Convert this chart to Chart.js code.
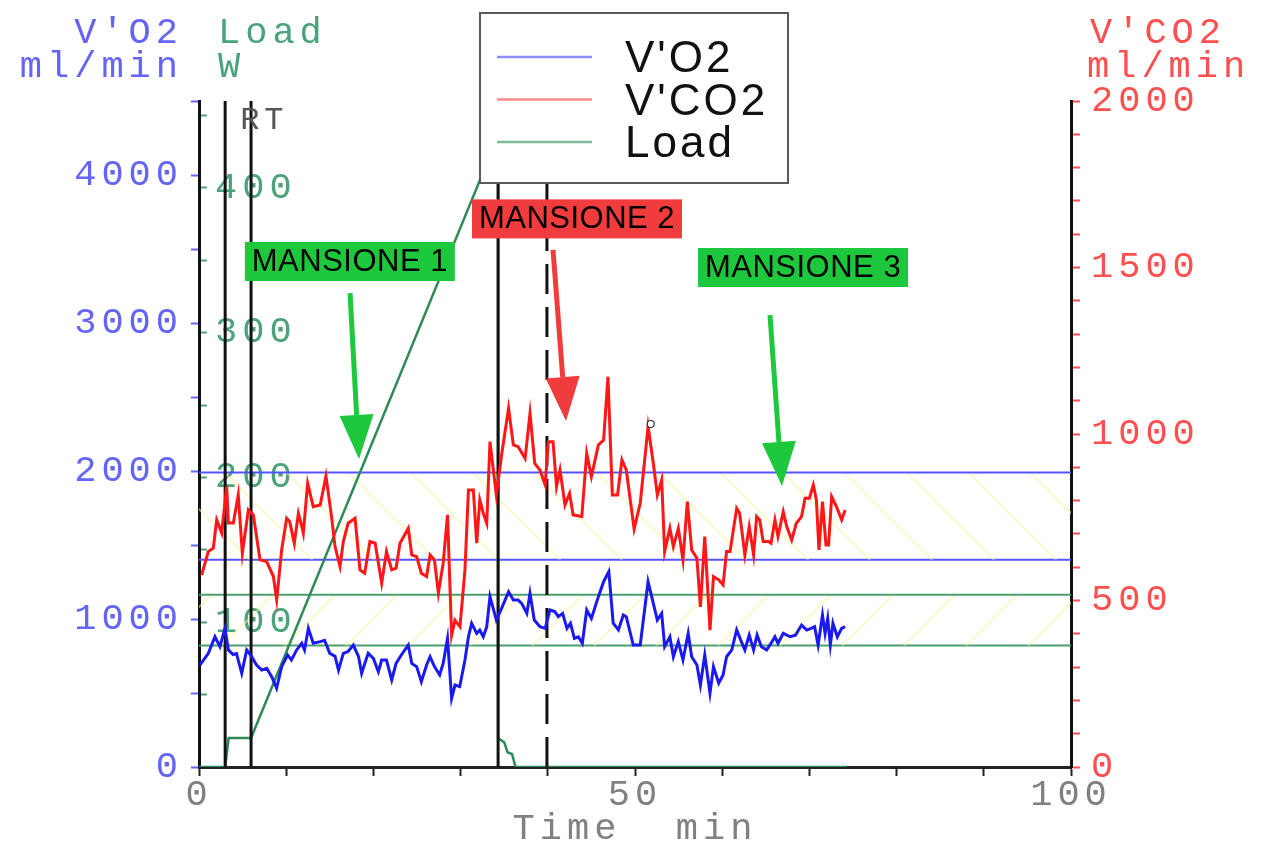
<!DOCTYPE html>
<html>
<head>
<meta charset="utf-8">
<title>V'O2 / V'CO2 / Load</title>
<script src="https://cdn.jsdelivr.net/npm/chart.js@4.4.1/dist/chart.umd.min.js"></script>
<style>
  html, body { margin: 0; padding: 0; background: #fff; }
  #wrap { position: relative; width: 1276px; height: 845px; }
</style>
</head>
<body>
<div id="wrap"><canvas id="chart"></canvas></div>
<script>
// Values (time in min)
const o2Time = [0.1, 1.07, 1.83, 2.4, 2.98, 3.37, 3.9, 4.3, 4.9, 5.47, 6.0, 6.6, 7.2, 7.76, 8.34, 8.9, 9.48, 10.16, 10.6, 11.2,
  11.78, 12.1, 12.54, 13.1, 13.9, 14.4, 15.0, 15.6, 16.0, 16.55, 17.1, 17.7, 18.3, 18.65, 19.4, 20.0, 20.57, 20.95, 21.5, 22.1,
  22.6, 23.2, 24.0, 24.4, 24.96, 25.5, 26.1, 26.5, 27.0, 27.6, 28.0, 28.5, 28.97, 29.36, 29.9, 30.5, 30.9, 31.27, 31.85, 32.2,
  32.6, 33.0, 33.37, 34.1, 34.7, 35.5, 36.05, 36.6, 37.0, 37.6, 37.96, 38.45, 39.1, 39.7, 40.25, 40.8, 41.2, 41.7, 42.2, 42.6,
  43.05, 43.5, 43.96, 44.46, 45.0, 45.8, 46.4, 47.0, 47.5, 48.1, 48.66, 49.0, 49.8, 50.6, 51.5, 52.1, 52.56, 53.06, 53.4, 54.0,
  54.4, 54.97, 55.5, 56.1, 56.5, 57.1, 57.5, 58.0, 58.6, 59.0, 59.6, 60.1, 60.5, 61.1, 61.66, 62.2, 62.6, 63.1, 63.6, 64.0,
  64.5, 65.1, 65.6, 66.05, 66.4, 67.0, 67.8, 68.4, 69.1, 69.7, 70.2, 70.6, 71.0, 71.5, 71.8, 72.1, 72.4, 72.7, 73.2, 73.7, 74.1];
const o2Value = [689, 768, 880, 813, 937, 791, 760, 766, 633, 791, 750, 689, 655, 667, 610, 532, 678, 757, 723, 791,
  836, 791, 937, 836, 847, 856, 768, 748, 655, 768, 780, 824, 745, 633, 768, 734, 644, 723, 723, 588,
  700, 757, 824, 700, 678, 576, 689, 745, 678, 622, 700, 869, 464, 554, 543, 723, 880, 971, 903, 925,
  880, 948, 1151, 993, 1072, 1184, 1128, 1128, 1106, 1038, 1173, 993, 948, 937, 1061, 1050, 1016, 1038, 937, 971,
  869, 880, 836, 1061, 1004, 1151, 1252, 1320, 971, 926, 1027, 1016, 824, 824, 1252, 1106, 993, 1038, 813, 880,
  745, 847, 723, 903, 745, 689, 554, 757, 498, 678, 566, 622, 745, 791, 926, 847, 791, 892, 791, 892,
  813, 791, 836, 880, 836, 903, 880, 890, 959, 925, 937, 948, 824, 1027, 903, 1004, 824, 971, 880, 937, 948];

const co2Time = [0.3, 1.07, 1.64, 2.03, 2.6, 3.17, 3.37, 3.94, 4.5, 4.97, 5.66, 6.23, 7.0, 7.76, 8.53, 8.91, 9.48, 10.05, 10.4, 10.93,
  11.4, 11.7, 11.96, 12.46, 13.1, 13.9, 14.56, 15.2, 15.6, 16.17, 16.55, 17.1, 17.9, 18.46, 19.0, 19.6, 20.2, 20.95, 21.5, 22.1,
  22.6, 23.05, 24.0, 24.4, 24.96, 25.5, 26.1, 26.5, 27.0, 27.45, 28.0, 28.5, 28.97, 29.36, 29.93, 30.5, 30.9, 31.46, 31.85, 32.2,
  32.6, 33.0, 33.37, 34.1, 34.7, 35.5, 36.05, 36.6, 37.4, 37.96, 38.5, 39.1, 39.7, 40.06, 40.6, 41.0, 41.4, 41.97, 42.5, 42.9,
  43.9, 44.46, 45.0, 45.8, 46.4, 46.9, 47.4, 48.0, 48.5, 49.0, 49.9, 50.6, 51.5, 52.1, 52.56, 53.06, 53.4, 54.0, 54.4, 54.97,
  55.5, 56.0, 56.5, 57.1, 57.5, 58.0, 58.6, 59.0, 59.6, 60.1, 60.5, 60.9, 61.66, 62.0, 62.6, 63.1, 63.6, 63.95, 64.3, 64.7,
  65.3, 65.6, 66.05, 66.4, 67.0, 67.4, 67.97, 68.5, 69.1, 69.5, 70.0, 70.45, 70.8, 71.1, 71.5, 71.9, 72.2, 72.55, 73.1, 73.7, 74.1];
const co2Value = [576, 647, 657, 742, 703, 842, 733, 733, 817, 642, 772, 757, 622, 617, 572, 502, 652, 747, 737, 672,
  762, 732, 702, 852, 782, 787, 874, 752, 662, 602, 677, 732, 747, 592, 582, 677, 672, 552, 647, 592,
  597, 672, 717, 637, 632, 582, 572, 637, 622, 522, 612, 757, 396, 441, 421, 592, 832, 832, 672, 802,
  762, 732, 977, 817, 937, 1077, 967, 962, 927, 1062, 912, 892, 847, 977, 977, 842, 892, 787, 822, 757,
  752, 942, 872, 967, 982, 1172, 817, 817, 922, 892, 715, 792, 1022, 912, 817, 862, 647, 717, 662, 717,
  622, 797, 652, 627, 481, 692, 411, 572, 562, 547, 647, 647, 777, 762, 637, 722, 637, 752, 742, 677,
  677, 672, 742, 692, 767, 722, 682, 732, 752, 807, 807, 847, 802, 652, 797, 667, 667, 812, 782, 742, 772];

const loadTime = [0, 3.0, 3.4, 5.97, 34.3, 34.3, 35.0, 35.4, 35.9, 36.3, 74.3];
const loadValue = [0, 0, 20, 20, 436, 20, 17, 10, 9, 0, 0];

const peakTime = [51.8];
const peakCO2 = [1030];

const eventTimes = [3.0, 5.97, 34.3];   // solid markers
const dashedEventTimes = [39.9];       // dashed marker

const o2Band = [1990, 1400];            // ml/min
const loadBand = [119, 84];             // W

const taskLabels = ['MANSIONE 1', 'MANSIONE 2', 'MANSIONE 3'];
const taskLabelAt = [[17.3, 1518], [43.35, 1646], [69.27, 1500]];
const taskArrowFrom = [[17.32, 1423], [40.6, 1553], [65.48, 1357]];
const taskArrowTo = [[18.35, 925], [42.09, 1039], [66.86, 844]];

const colors = {
    o2: '#1a1af0',
    co2: '#ff1616',
    load: '#2e8b57',
    o2Text: '#6464f6',
    co2Text: '#ff4f4f',
    loadText: '#4aa37a',
    refBlue: '#5454ff',
    refGreen: '#4a9f70',
    hatch: 'rgba(250, 246, 160, 0.55)',
    grey: '#808080',
    taskGreen: '#1ec83c',
    taskRed: '#f03c3c'
};
const mono = "'Liberation Mono', 'DejaVu Sans Mono', monospace";
const sans = "'Liberation Sans', Arial, sans-serif";

function hatch(dir) {
    const c = document.createElement('canvas');
    c.width = 62; c.height = 62;
    const g = c.getContext('2d');
    g.strokeStyle = colors.hatch;
    g.lineWidth = 2;
    [-62, 0, 62].forEach(k => {
        g.beginPath();
        if (dir === 'down') { g.moveTo(0, k); g.lineTo(62, 62 + k); }
        else { g.moveTo(0, 62 + k); g.lineTo(62, k); }
        g.stroke();
    });
    return g.createPattern(c, 'repeat');
}

const xy = (xs, ys) => xs.map((x, i) => ({ x: x, y: ys[i] }));
const hline = v => [{ x: 0, y: v }, { x: 100, y: v }];
const vline = t => [{ x: t, y: 0 }, { x: t, y: 2000 }];

const datasets = [
    { label: 'peak', data: xy(peakTime, peakCO2), yAxisID: 'yCO2', showLine: false,
      pointRadius: 3.5, pointBackgroundColor: '#fff', pointBorderColor: '#333', pointBorderWidth: 1.2 },
    { label: "V'CO2", legendColor: '#ff8a8a', data: xy(co2Time, co2Value), yAxisID: 'yCO2',
      borderColor: colors.co2, borderWidth: 3, pointRadius: 0 },
    { label: "V'O2", legendColor: '#8c8cff', data: xy(o2Time, o2Value), yAxisID: 'yO2',
      borderColor: colors.o2, borderWidth: 3, pointRadius: 0 },
    ...eventTimes.map(t => ({ label: 'event', data: vline(t), yAxisID: 'yCO2',
      borderColor: '#111', borderWidth: 3, pointRadius: 0 })),
    ...dashedEventTimes.map(t => ({ label: 'event', data: vline(t), yAxisID: 'yCO2',
      borderColor: '#111', borderWidth: 3, borderDash: [30, 13], pointRadius: 0 })),
    { label: 'Load', legendColor: '#7dbb9a', data: xy(loadTime, loadValue), yAxisID: 'yLoad',
      borderColor: colors.load, borderWidth: 2.5, pointRadius: 0 },
    { label: 'o2 band', data: hline(o2Band[0]), yAxisID: 'yO2', borderColor: colors.refBlue,
      borderWidth: 2, pointRadius: 0, fill: '+1', backgroundColor: hatch('down') },
    { label: 'o2 band', data: hline(o2Band[1]), yAxisID: 'yO2', borderColor: colors.refBlue,
      borderWidth: 2, pointRadius: 0 },
    { label: 'load band', data: hline(loadBand[0]), yAxisID: 'yLoad', borderColor: colors.refGreen,
      borderWidth: 2, pointRadius: 0, fill: '+1', backgroundColor: hatch('up') },
    { label: 'load band', data: hline(loadBand[1]), yAxisID: 'yLoad', borderColor: colors.refGreen,
      borderWidth: 2, pointRadius: 0 }
];
const legendLabels = ["V'O2", "V'CO2", 'Load'];

// Extra drawing: axis titles, legend box, task labels and arrows
const decorations = {
    id: 'decorations',
    beforeDraw(chart) {
        if ('letterSpacing' in chart.ctx) chart.ctx.letterSpacing = '5px';
    },
    afterDraw(chart) {
        const ctx = chart.ctx;
        const area = chart.chartArea;
        const xs = chart.scales.x, ys = chart.scales.yCO2;
        ctx.save();
        const spacing = v => { if ('letterSpacing' in ctx) ctx.letterSpacing = v; };

        // axis titles
        ctx.font = `37px ${mono}`;
        ctx.textBaseline = 'alphabetic';
        spacing('5px');
        ctx.fillStyle = colors.o2Text;
        ctx.textAlign = 'right';
        ctx.fillText("V'O2", area.left - 16, 43);
        ctx.fillText('ml/min', area.left - 16, 77);
        ctx.fillStyle = colors.loadText;
        ctx.textAlign = 'left';
        ctx.fillText('Load', area.left + 19, 43);
        ctx.fillText('W', area.left + 19, 77);
        ctx.fillStyle = colors.co2Text;
        ctx.fillText("V'CO2", area.right + 19, 43);
        ctx.fillText('ml/min', area.right + 16, 77);

        // RT marker label
        ctx.font = `32px ${mono}`;
        ctx.fillStyle = '#555';
        ctx.fillText('RT', xs.getPixelForValue(eventTimes[0]) + 15, area.top + 28);

        // legend
        const lx = 480, ly = 13, lw = 308, lh = 170;
        ctx.fillStyle = '#fff';
        ctx.fillRect(lx, ly, lw, lh);
        ctx.strokeStyle = '#5a5a5a';
        ctx.lineWidth = 2;
        ctx.strokeRect(lx, ly, lw, lh);
        ctx.font = `44px ${sans}`;
        spacing('3px');
        ctx.fillStyle = '#111';
        legendLabels.forEach((name, i) => {
            const ds = chart.data.datasets.find(d => d.label === name);
            const y = 57 + i * 42.5;
            ctx.strokeStyle = ds.legendColor;
            ctx.lineWidth = 2.5;
            ctx.beginPath();
            ctx.moveTo(lx + 17, y);
            ctx.lineTo(lx + 112, y);
            ctx.stroke();
            ctx.fillText(name, lx + 145, y + 15);
        });

        // task arrows
        taskLabels.forEach((txt, i) => {
            const col = i === 1 ? colors.taskRed : colors.taskGreen;
            const x1 = xs.getPixelForValue(taskArrowFrom[i][0]), y1 = ys.getPixelForValue(taskArrowFrom[i][1]);
            const x2 = xs.getPixelForValue(taskArrowTo[i][0]), y2 = ys.getPixelForValue(taskArrowTo[i][1]);
            const len = Math.hypot(x2 - x1, y2 - y1);
            const ux = (x2 - x1) / len, uy = (y2 - y1) / len;
            const head = 44, half = 17;
            const bx = x2 - ux * head, by = y2 - uy * head;
            ctx.strokeStyle = col;
            ctx.lineWidth = 5;
            ctx.beginPath();
            ctx.moveTo(x1, y1);
            ctx.lineTo(bx, by);
            ctx.stroke();
            ctx.fillStyle = col;
            ctx.beginPath();
            ctx.moveTo(x2, y2);
            ctx.lineTo(bx - uy * half, by + ux * half);
            ctx.lineTo(bx + uy * half, by - ux * half);
            ctx.closePath();
            ctx.fill();

            // label box
            const cx = xs.getPixelForValue(taskLabelAt[i][0]), cy = ys.getPixelForValue(taskLabelAt[i][1]);
            ctx.fillRect(cx - 105, cy - 19.5, 210, 39);
            ctx.fillStyle = '#000';
            ctx.font = `31px ${sans}`;
            spacing('0.5px');
            ctx.textAlign = 'center';
            ctx.textBaseline = 'middle';
            ctx.fillText(txt, cx, cy + 1);
            ctx.textAlign = 'left';
            ctx.textBaseline = 'alphabetic';
        });
        ctx.restore();
    }
};

const tickFont = { family: mono, size: 37, lineHeight: 1 };

new Chart(document.getElementById('chart'), {
    type: 'line',
    data: { datasets: datasets },
    options: {
        responsive: true,
        maintainAspectRatio: false,
        animation: false,
        layout: { padding: { top: 101, left: 0, right: 0, bottom: 0 } },
        elements: { line: { tension: 0 } },
        plugins: { legend: { display: false }, tooltip: { enabled: false } },
        scales: {
            x: {
                type: 'linear', min: 0, max: 100,
                afterFit: s => { s.height = 78; },
                border: { display: true, color: '#222', width: 3 },
                grid: { drawOnChartArea: false, tickLength: 9, color: '#222', tickWidth: 2 },
                ticks: {
                    stepSize: 10, autoSkip: false, maxRotation: 0, padding: 1,
                    color: colors.grey, font: tickFont,
                    callback: v => (v % 50 === 0 ? v : '')
                },
                title: {
                    display: true, text: 'Time  min', color: colors.grey,
                    font: tickFont, padding: { top: 0, bottom: -3 }
                }
            },
            yO2: {
                position: 'left', min: 0, max: 4500, weight: 1,
                afterFit: s => { s.width = 199; },
                border: { display: true, color: '#111', width: 3 },
                grid: { drawOnChartArea: false, tickLength: 8, color: colors.o2Text, tickWidth: 2 },
                ticks: {
                    stepSize: 500, autoSkip: false, padding: 8,
                    color: colors.o2Text, font: tickFont,
                    callback: v => (v % 1000 === 0 && v <= 4000 ? v : '')
                }
            },
            yLoad: {
                position: 'left', min: 0, max: 460, weight: 0,
                afterFit: s => { s.width = 0; },
                border: { display: false },
                grid: { drawOnChartArea: false, tickLength: -8, color: colors.loadText, tickWidth: 2 },
                ticks: {
                    stepSize: 50, autoSkip: false, mirror: true, padding: 16, includeBounds: false,
                    color: colors.loadText, font: tickFont,
                    callback: v => (v % 100 === 0 && v > 0 ? v : '')
                }
            },
            yCO2: {
                position: 'right', min: 0, max: 2000,
                afterFit: s => { s.width = 205; },
                border: { display: true, color: '#111', width: 3 },
                grid: { drawOnChartArea: false, tickLength: 9, color: colors.co2Text, tickWidth: 2 },
                ticks: {
                    stepSize: 100, autoSkip: false, padding: 11,
                    color: colors.co2Text, font: tickFont,
                    callback: v => (v % 500 === 0 ? v : '')
                }
            }
        }
    },
    plugins: [decorations]
});
</script>
</body>
</html>
